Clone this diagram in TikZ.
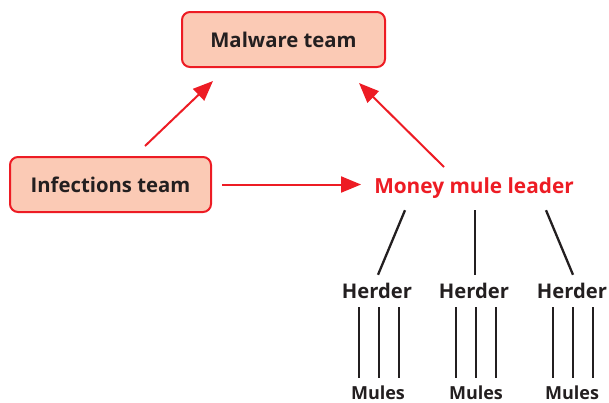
\documentclass[tikz,border=0pt]{standalone}
\usepackage{fontspec}
\setmainfont{Open Sans}
\usetikzlibrary{arrows.meta}
\definecolor{myred}{HTML}{ED1C24}
\definecolor{boxfill}{HTML}{FBCAB5}
\definecolor{txt}{HTML}{231F20}
\begin{document}
\begin{tikzpicture}[x=1pt,y=-1pt,
  box/.style={draw=myred, fill=boxfill, line width=2pt, rounded corners=8pt,
    minimum height=55pt, inner sep=0pt, font=\bfseries\fontsize{20.3}{24}\selectfont, text=txt},
  leaderstyle/.style={inner sep=0pt, font=\bfseries\fontsize{20.8}{24}\selectfont, text=myred, anchor=base},
  herderstyle/.style={inner sep=0pt, text height=15pt, text depth=0pt, font=\bfseries\fontsize{20.2}{24}\selectfont, text=txt, anchor=base},
  mulestyle/.style={inner sep=0pt, text height=13pt, text depth=0pt, font=\bfseries\fontsize{18}{21}\selectfont, text=txt, anchor=base},
  redarrow/.style={draw=myred, line width=2pt, -{Triangle[length=20pt,width=16pt]}},
  blk/.style={draw=txt, line width=2.3pt}]
\useasboundingbox (0,0) rectangle (609,402);
\node[box, minimum width=203pt] (malware) at (283.5,39.5) {Malware team};
\node[box, minimum width=201pt] (infect) at (110.5,184.5) {Infections team};
\node[leaderstyle] (leader) at (474,193) {Money mule leader};
\node[herderstyle] (h1) at (377,298) {Herder};
\node[herderstyle] (h2) at (474,298) {Herder};
\node[herderstyle] (h3) at (572,298) {Herder};
\node[mulestyle] (m1) at (378,399) {Mules};
\node[mulestyle] (m2) at (476,399) {Mules};
\node[mulestyle] (m3) at (572,399) {Mules};
% red arrows
\draw[redarrow] ([shift={(10,0)}]infect.east) -- ([shift={(-13,0)}]infect.east -| leader.west);
\draw[redarrow] ([shift={(34.5,-10)}]infect.north) -- ([shift={(32,13)}]malware.south west);
\draw[redarrow] ([shift={(-30,-10)}]leader.north) -- ([shift={(-27,15)}]malware.south east);
% leader to herders
\draw[blk] ([shift={(-69,12)}]leader.south) -- ([shift={(1,-8)}]h1.north);
\draw[blk] ([shift={(1,12)}]leader.south) -- ([shift={(1,-8)}]h2.north);
\draw[blk] ([shift={(72,12)}]leader.south) -- ([shift={(1,-8)}]h3.north);
% herders to mules
\foreach \i/\c in {1/1,2/0,3/1}{
  \foreach \dx in {-20,0,20}{
    \draw[blk] ([shift={(\dx+\c,-8)}]m\i.north) -- ++(0,-71);
  }
}
\end{tikzpicture}
\end{document}
